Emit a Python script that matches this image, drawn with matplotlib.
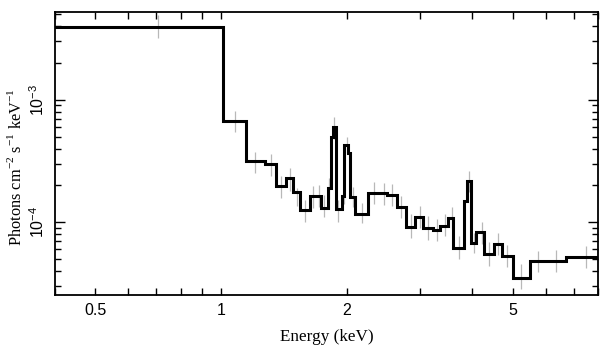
import numpy as np
import matplotlib
matplotlib.use("Agg")
import matplotlib.pyplot as plt
from matplotlib.ticker import FixedLocator, NullFormatter, LogLocator, LogFormatterSciNotation

plt.rcParams['font.family'] = ['Liberation Sans', 'DejaVu Sans']
plt.rcParams['mathtext.fontset'] = 'custom'
plt.rcParams['mathtext.rm'] = 'Liberation Serif'

# model histogram (bin edges in keV, flux per bin)
bin_edges = [0.35, 1.01, 1.147, 1.271, 1.356, 1.433, 1.487, 1.549, 1.631, 1.739,
             1.801, 1.830, 1.854, 1.884, 1.944, 1.975, 2.009, 2.037, 2.088, 2.247,
             2.502, 2.634, 2.773, 2.922, 3.042, 3.228, 3.348, 3.490, 3.602, 3.811,
             3.881, 3.979, 4.078, 4.270, 4.513, 4.703, 4.997, 5.510, 6.694, 8.5]
model_flux = [3.95e-3, 6.74e-4, 3.15e-4, 2.99e-4, 1.98e-4, 2.31e-4, 1.78e-4, 1.27e-4, 1.64e-4,
              1.32e-4, 1.89e-4, 4.96e-4, 5.99e-4, 1.28e-4, 1.64e-4, 4.27e-4, 3.67e-4, 1.60e-4,
              1.175e-4, 1.72e-4, 1.67e-4, 1.33e-4, 9.10e-5, 1.11e-4, 8.94e-5, 8.66e-5, 9.33e-5,
              1.08e-4, 6.21e-5, 1.49e-4, 2.17e-4, 6.82e-5, 8.29e-5, 5.48e-5, 6.65e-5, 5.31e-5,
              3.53e-5, 4.83e-5, 5.24e-5]

# data points with error bars
pt_energy = [0.705, 1.077, 1.207, 1.314, 1.394, 1.465, 1.521, 1.592, 1.661, 1.714,
             1.768, 1.818, 1.869, 1.908, 1.968, 2.005, 2.069, 2.177, 2.323, 2.452,
             2.570, 2.701, 2.847, 2.992, 3.133, 3.287, 3.436, 3.572, 3.720, 3.931,
             4.041, 4.210, 4.391, 4.615, 4.842, 5.234, 5.741, 6.353, 7.468]
pt_flux = [3.95e-3, 6.6e-4, 3.10e-4, 2.93e-4, 1.94e-4, 2.24e-4, 1.61e-4, 1.24e-4, 1.61e-4, 1.64e-4,
           1.36e-4, 1.9e-4, 5.9e-4, 1.24e-4, 1.67e-4, 4.27e-4, 1.62e-4, 1.19e-4, 1.74e-4, 1.70e-4,
           1.67e-4, 1.33e-4, 9.3e-5, 1.11e-4, 9.0e-5, 8.66e-5, 9.5e-5, 1.08e-4, 6.2e-5, 2.15e-4,
           6.8e-5, 8.2e-5, 5.5e-5, 6.65e-5, 5.3e-5, 3.6e-5, 4.77e-5, 4.83e-5, 5.2e-5]
pt_err_dex = [0.094, 0.086, 0.086, 0.09, 0.09, 0.094, 0.07, 0.09, 0.09, 0.09,
              0.088, 0.085, 0.09, 0.088, 0.07, 0.066, 0.082, 0.085, 0.09, 0.09,
              0.09, 0.09, 0.095, 0.09, 0.095, 0.09, 0.09, 0.09, 0.092, 0.082,
              0.08, 0.09, 0.095, 0.086, 0.09, 0.1, 0.088, 0.09, 0.09]

f = np.array(pt_flux)
d = np.array(pt_err_dex)
err_lo = f * (1 - 10 ** (-d))
err_hi = f * (10 ** d - 1)

fig = plt.figure(figsize=(6.09, 3.57), dpi=100)
ax = fig.add_axes([55 / 609, 1 - 295 / 357, 543 / 609, 283 / 357])

ax.errorbar(pt_energy, pt_flux, yerr=[err_lo, err_hi], fmt='none',
            ecolor='#b8b8b8', elinewidth=0.9, capsize=0, zorder=1)
ax.stairs(model_flux, bin_edges, baseline=None, color='black', linewidth=2.2, zorder=2)

ax.set_xscale('log')
ax.set_yscale('log')
ax.set_xlim(0.4, 8.0)
ax.set_ylim(2.55e-5, 5.2e-3)

ax.xaxis.set_major_locator(FixedLocator([0.5, 1, 2, 5]))
ax.set_xticklabels(['0.5', '1', '2', '5'])
ax.xaxis.set_minor_locator(FixedLocator([0.4, 0.6, 0.7, 0.8, 0.9, 3, 4, 6, 7, 8]))
ax.xaxis.set_minor_formatter(NullFormatter())

ax.yaxis.set_major_locator(LogLocator(base=10))
ax.yaxis.set_major_formatter(LogFormatterSciNotation())
ax.yaxis.set_minor_locator(LogLocator(base=10, subs=np.arange(2, 10)))
ax.yaxis.set_minor_formatter(NullFormatter())

ax.tick_params(which='both', direction='in', top=True, right=True, width=1.0,
               labelsize=11.5, colors='black')
ax.tick_params(axis='x', which='both', length=5, pad=6)
ax.tick_params(axis='y', which='major', length=7, pad=6)
ax.tick_params(axis='y', which='minor', length=4)
for lab in ax.get_yticklabels():
    lab.set_rotation(90)
    lab.set_va('center')

for sp in ax.spines.values():
    sp.set_linewidth(1.3)

ax.set_xlabel('Energy (keV)', family='Liberation Serif', fontsize=12.3, labelpad=8)
ax.set_ylabel(r'Photons cm$^{-2}$ s$^{-1}$ keV$^{-1}$', family='Liberation Serif',
              fontsize=11.8)
ax.yaxis.set_label_coords(-0.055, 0.454)

fig.savefig('out.png', dpi=100)
